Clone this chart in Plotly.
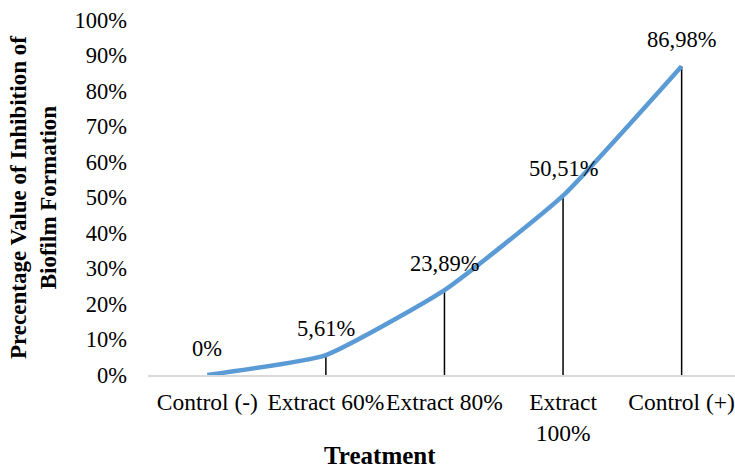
import plotly.graph_objects as go

categories = ["Control (-)", "Extract 60%", "Extract 80%", "Extract<br>100%", "Control (+)"]
values = [0, 5.61, 23.89, 50.51, 86.98]
labels = ["0%", "5,61%", "23,89%", "50,51%", "86,98%"]
y_ticks = list(range(0, 101, 10))
y_tick_text = [f"{v}%" for v in y_ticks]

FONT = "Liberation Serif"

fig = go.Figure()
# drop lines to the axis
fig.add_trace(go.Scatter(
    x=categories, y=values, mode="markers",
    marker=dict(size=1, color="rgba(0,0,0,0)"),
    error_y=dict(type="data", symmetric=False, array=[0]*len(values),
                 arrayminus=values, color="black", thickness=1.5, width=0),
    hoverinfo="skip", showlegend=False,
))
fig.add_trace(go.Scatter(
    x=categories, y=values, mode="lines",
    line=dict(color="#5B9BD5", width=4.5, shape="spline", smoothing=0.45),
    showlegend=False,
))
for c, v, t in zip(categories, values, labels):
    fig.add_annotation(x=c, y=v, text=t, showarrow=False, yshift=27,
                       font=dict(family=FONT, size=22.5, color="black"))

fig.add_annotation(xref="paper", yref="paper", x=-0.195, y=0.5, text="<b>Precentage Value of Inhibition of<br>Biofilm Formation</b>",
                   textangle=-90, showarrow=False, xanchor="center", yanchor="middle",
                   font=dict(family=FONT, size=23, color="black"))
fig.add_annotation(xref="paper", yref="paper", x=0.395, y=-0.227, text="<b>Treatment</b>",
                   showarrow=False, xanchor="center", yanchor="middle",
                   font=dict(family=FONT, size=25, color="black"))

fig.update_layout(
    width=735, height=472,
    margin=dict(l=148, r=0, t=20, b=97),
    paper_bgcolor="white", plot_bgcolor="white",
    font=dict(family=FONT, size=22, color="black"),
    xaxis=dict(type="category", range=[-0.5, 4.45], showgrid=False, showline=True,
               linecolor="#D9D9D9", linewidth=1.5, ticks="", zeroline=False,
               tickangle=0, automargin=False,
               tickfont=dict(family=FONT, size=23.5, color="black"), ticklabelstandoff=5),
    yaxis=dict(range=[0, 100], tickvals=y_ticks, ticktext=y_tick_text, showgrid=False,
               showline=False, zeroline=False, ticks="", automargin=False,
               tickfont=dict(family=FONT, size=22.5, color="black"), ticklabelstandoff=20),
)
fig.write_html("out.html")
